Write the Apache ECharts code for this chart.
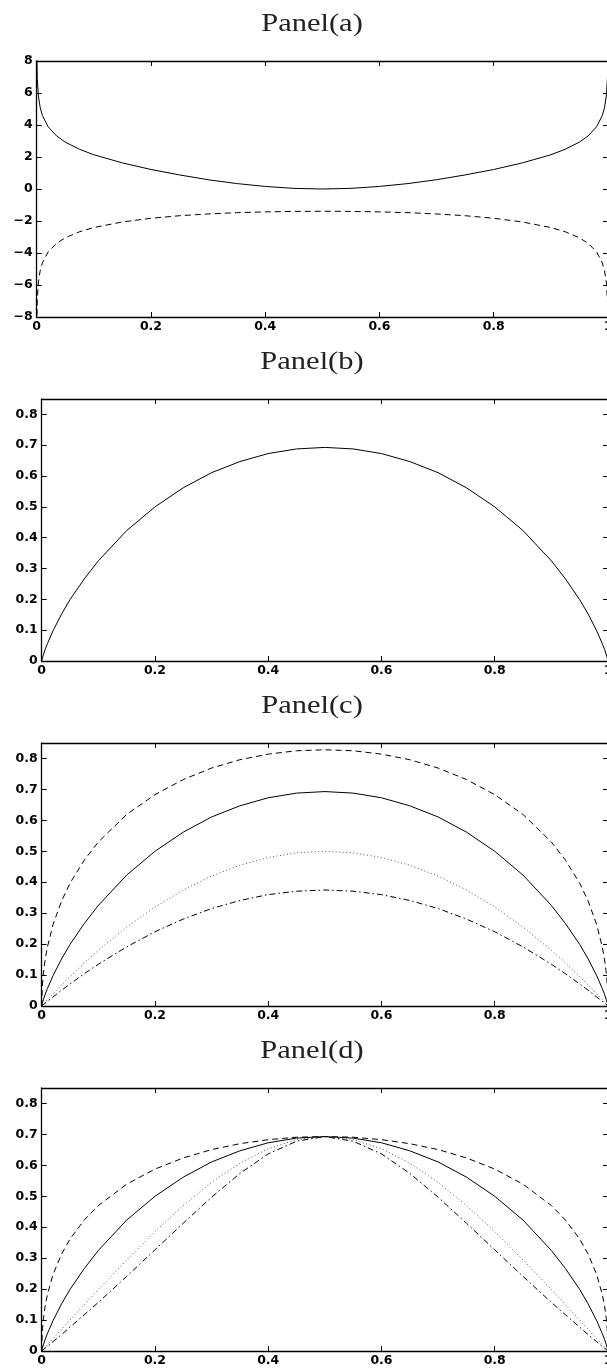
<!DOCTYPE html>
<html>
<head>
<meta charset="utf-8">
<style>
  html, body { margin: 0; padding: 0; background: #fff; }
  #chart { width: 607px; height: 1370px; }
</style>
<script src="https://cdn.jsdelivr.net/npm/echarts@6/dist/echarts.min.js"></script>
</head>
<body>
<div id="chart"></div>
<script>
// panel (a): x runs almost to the edges, curves blow up at 0 and 1
const X_A = [0.0002, 0.001, 0.003, 0.006, 0.01, 0.02, 0.035, 0.05, 0.075, 0.1, 0.15, 0.2, 0.25, 0.3, 0.35, 0.4, 0.45, 0.5,
  0.55, 0.6, 0.65, 0.7, 0.75, 0.8, 0.85, 0.9, 0.925, 0.95, 0.965, 0.98, 0.99, 0.994, 0.997, 0.999, 0.9998];
const A_SOLID = [8.52, 6.91, 5.81, 5.11, 4.59, 3.89, 3.31, 2.93, 2.48, 2.14, 1.63, 1.22, 0.88, 0.58, 0.34, 0.16, 0.04, 0,
  0.04, 0.16, 0.34, 0.58, 0.88, 1.22, 1.63, 2.14, 2.48, 2.93, 3.31, 3.89, 4.59, 5.11, 5.81, 6.91, 8.52];
const A_DASHED = [-8.52, -6.91, -5.81, -5.12, -4.62, -3.93, -3.39, -3.05, -2.67, -2.41, -2.06, -1.83, -1.67, -1.56, -1.48, -1.43, -1.40, -1.39,
  -1.40, -1.43, -1.48, -1.56, -1.67, -1.83, -2.06, -2.41, -2.67, -3.05, -3.39, -3.93, -4.62, -5.12, -5.81, -6.91, -8.52];

// panels (b)-(d)
const X = [0, 0.001, 0.003, 0.006, 0.01, 0.02, 0.035, 0.05, 0.075, 0.1, 0.15, 0.2, 0.25, 0.3, 0.35, 0.4, 0.45, 0.5,
  0.55, 0.6, 0.65, 0.7, 0.75, 0.8, 0.85, 0.9, 0.925, 0.95, 0.965, 0.98, 0.99, 0.994, 0.997, 0.999, 1];
const SOLID = [0, 0.008, 0.020, 0.037, 0.056, 0.098, 0.152, 0.199, 0.266, 0.325, 0.423, 0.500, 0.562, 0.611, 0.647, 0.673, 0.688, 0.693,
  0.688, 0.673, 0.647, 0.611, 0.562, 0.500, 0.423, 0.325, 0.266, 0.199, 0.152, 0.098, 0.056, 0.037, 0.020, 0.008, 0];
const C_DASHED = [0, 0.062, 0.107, 0.149, 0.190, 0.263, 0.339, 0.397, 0.471, 0.530, 0.619, 0.683, 0.732, 0.769, 0.796, 0.814, 0.825, 0.828,
  0.825, 0.814, 0.796, 0.769, 0.732, 0.683, 0.619, 0.530, 0.471, 0.397, 0.339, 0.263, 0.190, 0.149, 0.107, 0.062, 0];
const C_DOTTED = [0, 0.002, 0.006, 0.012, 0.020, 0.039, 0.068, 0.095, 0.139, 0.180, 0.255, 0.320, 0.375, 0.420, 0.455, 0.480, 0.495, 0.500,
  0.495, 0.480, 0.455, 0.420, 0.375, 0.320, 0.255, 0.180, 0.139, 0.095, 0.068, 0.039, 0.020, 0.012, 0.006, 0.002, 0];
const C_DASHDOT = [0, 0.0015, 0.0045, 0.009, 0.015, 0.029, 0.051, 0.071, 0.104, 0.135, 0.191, 0.240, 0.281, 0.315, 0.341, 0.360, 0.371, 0.375,
  0.371, 0.360, 0.341, 0.315, 0.281, 0.240, 0.191, 0.135, 0.104, 0.071, 0.051, 0.029, 0.015, 0.009, 0.0045, 0.0015, 0];
const D_DASHED = [0, 0.061, 0.104, 0.144, 0.182, 0.247, 0.313, 0.362, 0.423, 0.470, 0.539, 0.588, 0.624, 0.651, 0.670, 0.683, 0.691, 0.693,
  0.691, 0.683, 0.670, 0.651, 0.624, 0.588, 0.539, 0.470, 0.423, 0.362, 0.313, 0.247, 0.182, 0.144, 0.104, 0.061, 0];
const D_DOTTED = [0, 0.002, 0.006, 0.012, 0.020, 0.040, 0.070, 0.100, 0.149, 0.199, 0.294, 0.386, 0.470, 0.545, 0.607, 0.654, 0.683, 0.693,
  0.683, 0.654, 0.607, 0.545, 0.470, 0.386, 0.294, 0.199, 0.149, 0.100, 0.070, 0.040, 0.020, 0.012, 0.006, 0.002, 0];
const D_DASHDOT = [0, 0.0015, 0.0045, 0.009, 0.015, 0.030, 0.053, 0.077, 0.117, 0.157, 0.241, 0.327, 0.413, 0.497, 0.574, 0.637, 0.678, 0.693,
  0.678, 0.637, 0.574, 0.497, 0.413, 0.327, 0.241, 0.157, 0.117, 0.077, 0.053, 0.030, 0.015, 0.009, 0.0045, 0.0015, 0];

const TITLES = ["Panel(a)", "Panel(b)", "Panel(c)", "Panel(d)"];
const X_RANGE = [0, 1, 0.2];
const Y_RANGE_A = [-8, 8, 2];
const Y_RANGE_P = [0, 0.85, 0.1];

const GRIDS = [
  { left: 36.7, top: 61, width: 571.3, height: 256 },
  { left: 41.7, top: 399, width: 566.3, height: 262 },
  { left: 41.7, top: 743, width: 566.3, height: 263 },
  { left: 41.7, top: 1088, width: 566.3, height: 263 },
];

const LABEL_FONT = { color: "#000", fontFamily: "DejaVu Sans", fontWeight: "bold", fontSize: 12.5 };
const DASHED = [6, 4];
const DOTTED = [1, 2.5];
const DASHDOT = [6, 3, 1.5, 3];

const pairs = (xs, ys) => xs.map((x, i) => [x, ys[i]]);
const minusSign = (v) => String(v).replace("-", "\u2212");

const makeAxis = (kind, range, gridIndex, mirror) => ({
  type: "value",
  gridIndex,
  position: kind === "x" ? (mirror ? "top" : "bottom") : (mirror ? "right" : "left"),
  min: range[0],
  max: range[1],
  interval: range[2],
  splitLine: { show: false },
  axisLine: { show: true, onZero: false, lineStyle: { color: "#000", width: 1.3 } },
  axisTick: { show: true, inside: true, length: 5, lineStyle: { color: "#000", width: 1 } },
  axisLabel: {
    show: !mirror,
    margin: kind === "x" ? 3 : 4,
    showMaxLabel: kind === "x" || range[1] % range[2] === 0,
    formatter: minusSign,
    ...LABEL_FONT,
  },
});

const xAxis = [];
const yAxis = [];
GRIDS.forEach((g, i) => {
  const yRange = i === 0 ? Y_RANGE_A : Y_RANGE_P;
  xAxis.push(makeAxis("x", X_RANGE, i, false), makeAxis("x", X_RANGE, i, true));
  yAxis.push(makeAxis("y", yRange, i, false), makeAxis("y", yRange, i, true));
});

const line = (panel, xs, ys, dash, color = "#000") => ({
  type: "line",
  xAxisIndex: panel * 2,
  yAxisIndex: panel * 2,
  data: pairs(xs, ys),
  symbol: "none",
  smooth: false,
  animation: false,
  lineStyle: { color, width: 1, type: dash },
});

const series = [
  line(0, X_A, A_SOLID, "solid"),
  line(0, X_A, A_DASHED, DASHED),
  line(1, X, SOLID, "solid"),
  line(2, X, C_DASHED, DASHED),
  line(2, X, SOLID, "solid"),
  line(2, X, C_DOTTED, DOTTED, "#555"),
  line(2, X, C_DASHDOT, DASHDOT),
  line(3, X, D_DASHED, DASHED),
  line(3, X, SOLID, "solid"),
  line(3, X, D_DOTTED, DOTTED, "#555"),
  line(3, X, D_DASHDOT, DASHDOT),
];

const titles = TITLES.map((text, i) => ({
  type: "text",
  x: 312,
  y: GRIDS[i].top - 37,
  scaleX: 1.22,
  style: {
    text,
    fill: "#222",
    font: "25px 'Liberation Serif'",
    textAlign: "center",
    textVerticalAlign: "middle",
  },
}));

const chart = echarts.init(document.getElementById("chart"));
chart.setOption({
  animation: false,
  backgroundColor: "#fff",
  grid: GRIDS.map((g) => ({ ...g, outerBoundsMode: "none", containLabel: false })),
  xAxis,
  yAxis,
  series,
  graphic: titles,
});
</script>
</body>
</html>
